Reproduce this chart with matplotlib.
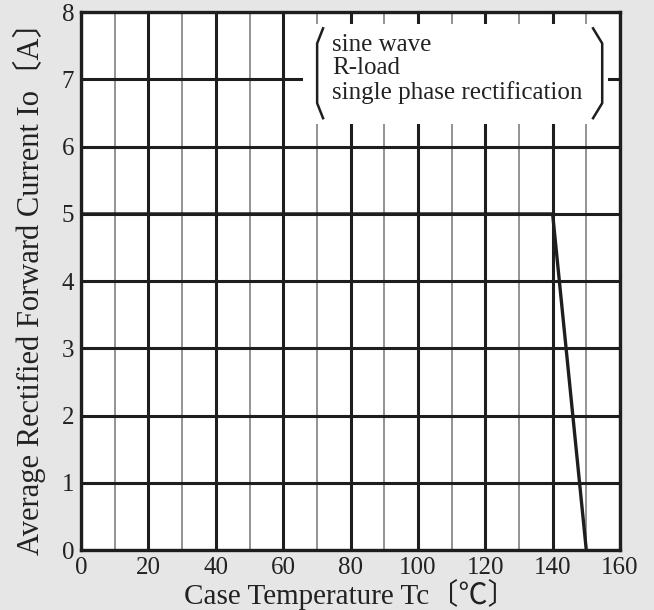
import numpy as np
import matplotlib
matplotlib.use("Agg")
import matplotlib.pyplot as plt

# derating curve
case_temp = [0, 140, 150]
io_current = [5, 5, 0]

x_major = np.arange(0, 161, 20)
x_minor = np.arange(10, 160, 20)
y_major = np.arange(0, 9, 1)

note_lines = ["sine wave", "R-load", "single phase rectification"]

plt.rcParams['font.family'] = ['Liberation Serif', 'DejaVu Serif']
label_fonts = ['Liberation Serif', 'Noto Sans CJK JP', 'DejaVu Serif']

fig = plt.figure(figsize=(6.54, 6.10), dpi=100, facecolor='#e6e6e6')
ax = fig.add_axes([0.124, 0.098, 0.824, 0.882])
ax.set_facecolor('white')

ax.set_xlim(0, 160)
ax.set_ylim(0, 8)
ax.set_xticks(x_major)
ax.set_yticks(y_major)
ax.set_xticks(x_minor, minor=True)
ax.tick_params(which='both', length=0, labelsize=18, colors='#222222', pad=5)

ax.grid(which='major', color='#1e1e1e', linewidth=2.2, zorder=1)
ax.grid(which='minor', axis='x', color='#8a8a8a', linewidth=1.3, zorder=1)
ax.set_axisbelow(True)
for s in ax.spines.values():
    s.set_linewidth(2.4)
    s.set_color('#1e1e1e')

ax.plot(case_temp, io_current, color='#1e1e1e', linewidth=2.4, zorder=3)

ax.set_xlabel('Case Temperature Tc〔℃〕', fontsize=21, color='#222222', labelpad=0,
              family=label_fonts)
ax.set_ylabel('Average Rectified Forward Current Io〔A〕', fontsize=22, color='#222222',
              labelpad=11, family=label_fonts)

# note box
bx0, bx1, by0, by1 = 0.412, 0.978, 0.792, 0.978
ax.add_patch(plt.Rectangle((bx0, by0), bx1 - bx0, by1 - by0, transform=ax.transAxes,
                           facecolor='white', edgecolor='none', zorder=2))
ly = [0.970, 0.942, 0.831, 0.803]
ax.plot([0.449, 0.438, 0.438, 0.449], ly, transform=ax.transAxes,
        color='#1e1e1e', linewidth=1.8, zorder=3)
ax.plot([0.950, 0.967, 0.967, 0.950], ly, transform=ax.transAxes,
        color='#1e1e1e', linewidth=1.8, zorder=3)

ax.text(0.466, 0.960, "\n".join(note_lines), transform=ax.transAxes, fontsize=18,
        va='top', ha='left', linespacing=1.08, color='#222222', zorder=4)

fig.savefig('out.png', dpi=100, facecolor=fig.get_facecolor())
